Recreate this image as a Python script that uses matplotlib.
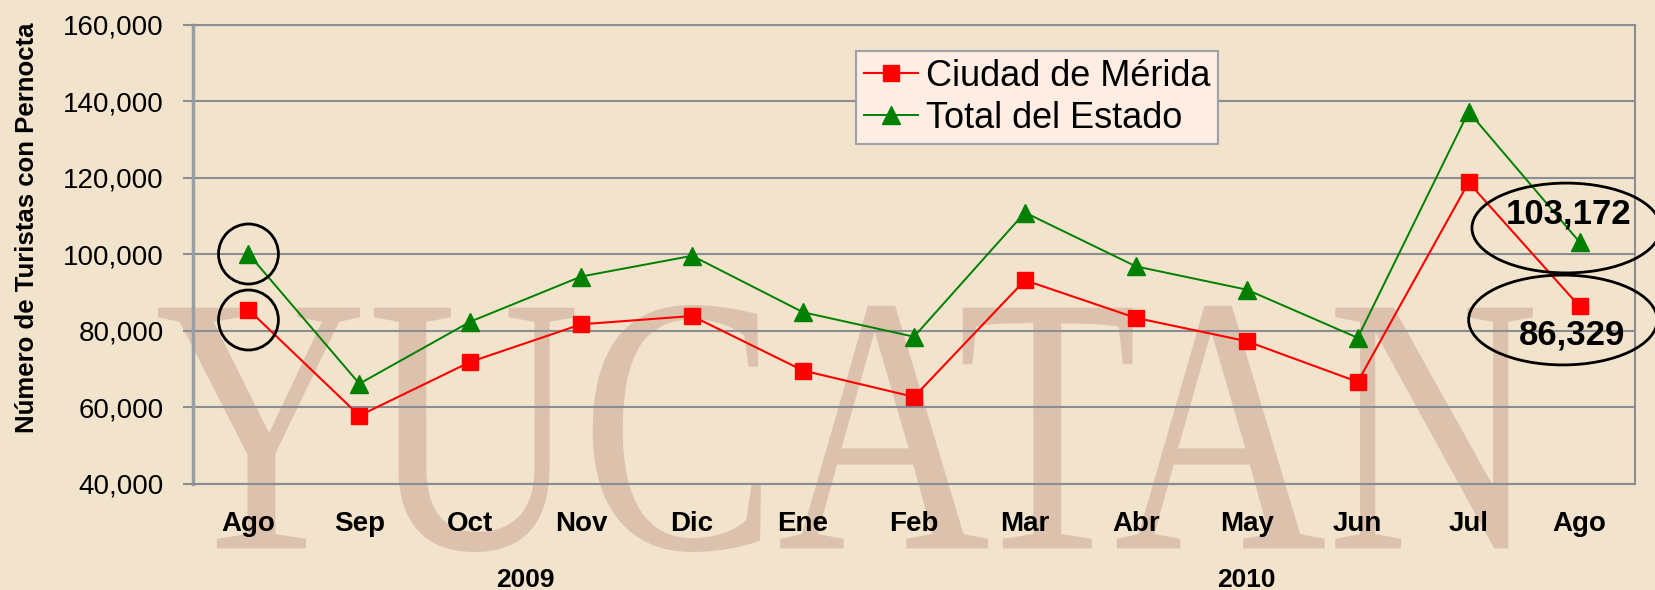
import matplotlib.pyplot as plt
from matplotlib.patches import Ellipse, PathPatch
from matplotlib.textpath import TextPath
from matplotlib.font_manager import FontProperties
from matplotlib.transforms import Affine2D
from matplotlib.ticker import FuncFormatter

# Monthly overnight tourists
months = ["Ago", "Sep", "Oct", "Nov", "Dic", "Ene", "Feb", "Mar", "Abr", "May", "Jun", "Jul", "Ago"]
merida = [85490, 57740, 71810, 81650, 83820, 69550, 62660, 93170, 83330, 77220, 66590, 118760, 86329]
estado = [100060, 66100, 82340, 94150, 99570, 84800, 78400, 110890, 96810, 90710, 78110, 137260, 103172]
years = ["2009", "2010"]
year_pos = [2.5, 9.0]

plt.rcParams['font.family'] = ['Liberation Sans', 'DejaVu Sans']

bg = "#f2e3cc"
grid_col = "#8a8d92"

fig = plt.figure(figsize=(16.55, 5.9), dpi=100, facecolor=bg)

# watermark "YUCATAN" behind the chart
tp = TextPath((0, 0), "YUCATAN", size=1, prop=FontProperties(family="Liberation Serif"))
ext = tp.get_extents()
x0, x1 = 158 / 1655, 1533 / 1655
y0, y1 = 1 - 552 / 590, 1 - 305 / 590
tr = Affine2D().translate(-ext.x0, -ext.y0).scale((x1 - x0) / ext.width, (y1 - y0) / ext.height).translate(x0, y0)
fig.patches.append(PathPatch(tp, transform=tr + fig.transFigure, facecolor="#dcc2ad", edgecolor="none", zorder=-1))

ax = fig.add_axes([193 / 1655, 1 - 483.5 / 590, (1635 - 193) / 1655, (483.5 - 24.8) / 590])
ax.set_facecolor("none")
ax.set_zorder(2)

x = list(range(len(months)))
ax.plot(x, merida, color="#ff0000", lw=1.5, marker="s", ms=12, mec="#ff0000", label="Ciudad de Mérida", zorder=4)
ax.plot(x, estado, color="#008000", lw=1.4, marker="^", ms=13, mec="#008000", label="Total del Estado", zorder=4)

ax.set_xlim(-0.5, len(months) - 0.5)
ax.set_ylim(40000, 160000)
ax.set_yticks(range(40000, 160001, 20000))
ax.yaxis.set_major_formatter(FuncFormatter(lambda v, p: f"{int(v):,}"))
ax.set_xticks(x)
ax.set_xticklabels(months, fontweight="bold", fontsize=20)
ax.tick_params(axis="x", length=0, pad=20)
ax.tick_params(axis="y", length=7, width=1.5, color=grid_col, labelsize=20, pad=14)
ax.yaxis.grid(True, color=grid_col, lw=1.5)
ax.set_axisbelow(True)
for side in ["left", "bottom", "right", "top"]:
    ax.spines[side].set_color(grid_col)
    ax.spines[side].set_linewidth(1.5)
ax.spines["left"].set_linewidth(2.5)
ax.spines["left"].set_color("#9a9da2")

fig.text(27 / 1655, 1 - 228 / 590, "Número de Turistas con Pernocta", rotation=90, ha="center", va="center",
         fontweight="bold", fontsize=18.5)

for yr, pos in zip(years, year_pos):
    ax.text(pos, -0.211, yr, transform=ax.get_xaxis_transform(), ha="center", va="center",
            fontweight="bold", fontsize=19)

# highlight first and last month
ax.add_patch(Ellipse((0, 100040), 0.54, 15700, fill=False, ec="black", lw=2, zorder=5))
ax.add_patch(Ellipse((0, 82770), 0.54, 15700, fill=False, ec="black", lw=2, zorder=5))
ax.add_patch(Ellipse((11.88, 106840), 1.7, 23500, fill=False, ec="black", lw=2, zorder=5, clip_on=False))
ax.add_patch(Ellipse((11.85, 82770), 1.7, 23500, fill=False, ec="black", lw=2, zorder=5, clip_on=False))
ax.text(11.9, 110400, f"{estado[-1]:,}", ha="center", va="center", fontsize=25, fontweight="bold", zorder=6)
ax.text(11.93, 78850, f"{merida[-1]:,}", ha="center", va="center", fontsize=25, fontweight="bold", zorder=6)

leg = ax.legend(loc="upper left", bbox_to_anchor=(0.46, 0.943), fontsize=26, frameon=True, fancybox=False,
                handlelength=1.5, handletextpad=0.2, labelspacing=0.2, borderpad=0.22, borderaxespad=0)
leg.get_frame().set_facecolor("#fdede2")
leg.get_frame().set_edgecolor("#a0a0a8")
leg.get_frame().set_linewidth(1.5)
leg.get_frame().set_alpha(1)

fig.savefig("out.png", dpi=100, facecolor=bg)
